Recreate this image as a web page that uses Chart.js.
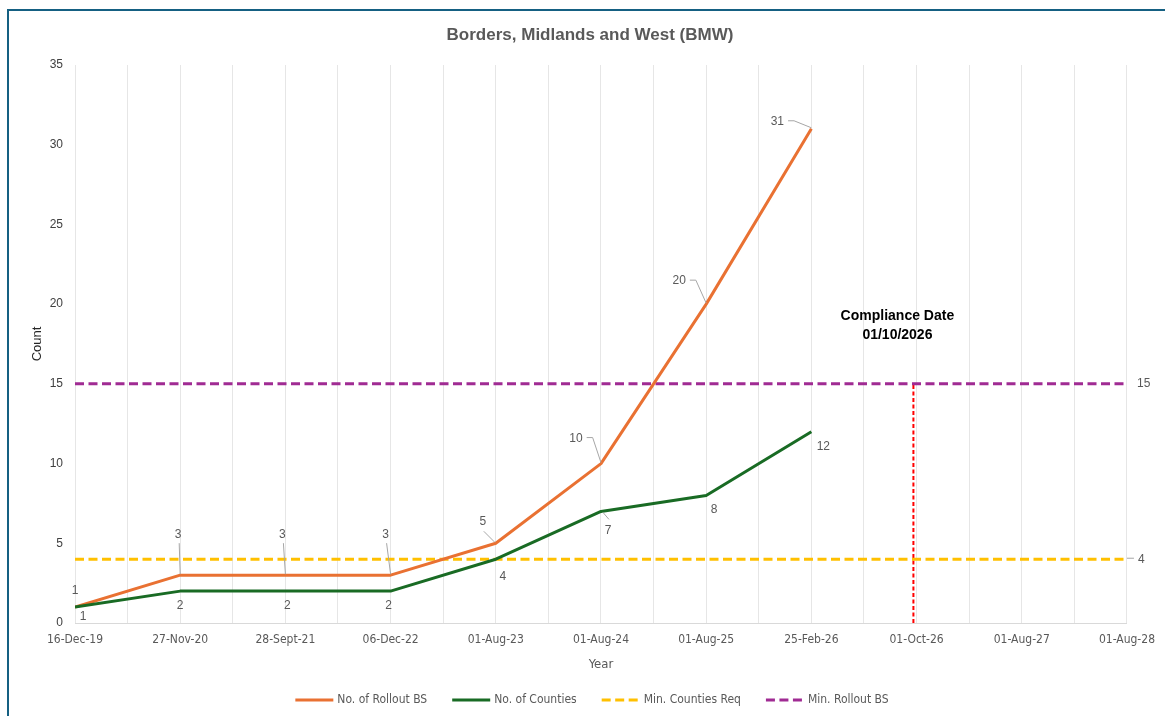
<!DOCTYPE html>
<html>
<head>
<meta charset="utf-8">
<script src="https://cdn.jsdelivr.net/npm/chart.js@4.4.1/dist/chart.umd.min.js"></script>
<style>
  html, body { margin: 0; padding: 0; background: #ffffff; }
  #wrap { position: relative; width: 1165px; height: 716px; overflow: hidden; background: #ffffff; }
  #wrap canvas { position: absolute; left: 0; top: 0; }
  #frame { position: absolute; left: 7px; top: 9px; width: 1220px; height: 760px;
           border-left: 2px solid #156082; border-top: 2px solid #156082; pointer-events: none; }
</style>
</head>
<body>
<div id="wrap">
  <canvas id="chart" width="1165" height="716"></canvas>
  <div id="frame"></div>
</div>
<script>
// ---- data ----
const xLabels = ['16-Dec-19', '27-Nov-20', '28-Sept-21', '06-Dec-22', '01-Aug-23', '01-Aug-24',
                 '01-Aug-25', '25-Feb-26', '01-Oct-26', '01-Aug-27', '01-Aug-28'];
const rolloutBS      = [1, 3, 3, 3, 5, 10, 20, 31];
const counties       = [1, 2, 2, 2, 4, 7, 8, 12];
const minCountiesReq = [4, 4, 4, 4, 4, 4, 4, 4, 4, 4, 4];
const minRolloutBS   = [15, 15, 15, 15, 15, 15, 15, 15, 15, 15, 15];
const complianceX    = 7.97;      // 01/10/2026 on the date axis
const complianceSpan = [0, 15];
const yTickValues    = [0, 5, 10, 15, 20, 25, 30, 35];

const TEXT = '#595959';
const NARROW = "'Liberation Sans Narrow', 'DejaVu Sans Condensed', 'Liberation Sans', sans-serif";
const SANS = "'Liberation Sans', Arial, sans-serif";

const toPoints = arr => arr.map((v, i) => ({ x: i, y: v }));

// label placement (offset from the point, in px) and leader style
const rolloutLabelStyle = [
  { dx: 0, dy: -16 },
  { dx: -2, dy: -40, lead: 'v' },
  { dx: -3, dy: -40, lead: 'v' },
  { dx: -5, dy: -40, lead: 'v' },
  { dx: -13, dy: -22, lead: 'd' },
  { dx: -25, dy: -25, lead: 'e' },
  { dx: -27, dy: -23, lead: 'e' },
  { dx: -34, dy: -7, lead: 'e' }
];
const countiesLabelStyle = [
  { dx: 8, dy: 10 },
  { dx: 0, dy: 15 },
  { dx: 2, dy: 15 },
  { dx: -2, dy: 15 },
  { dx: 7, dy: 17 },
  { dx: 7, dy: 19, lead: 'p' },
  { dx: 8, dy: 14 },
  { dx: 12, dy: 15 }
];

const labelPlugin = {
  id: 'annotationsAndLabels',
  afterDatasetsDraw(chart) {
    const ctx = chart.ctx;
    const xs = chart.scales.x, ys = chart.scales.y;
    ctx.save();

    // title
    ctx.fillStyle = TEXT;
    ctx.font = "bold 17px " + SANS;
    ctx.textAlign = 'center';
    ctx.textBaseline = 'middle';
    ctx.fillText('Borders, Midlands and West (BMW)', 590, 35);

    // data labels with leader lines
    ctx.font = "12px " + SANS;
    const drawSet = (values, styles) => {
      values.forEach((v, i) => {
        const px = xs.getPixelForValue(i), py = ys.getPixelForValue(v);
        const st = styles[i];
        const lx = px + st.dx, ly = py + st.dy;
        const txt = String(v);
        const w = ctx.measureText(txt).width;
        ctx.strokeStyle = '#a6a6a6';
        ctx.lineWidth = 1;
        ctx.beginPath();
        if (st.lead === 'v') {
          ctx.moveTo(lx + 1, ly + 8); ctx.lineTo(px, py - 1);
        } else if (st.lead === 'd') {
          ctx.moveTo(lx + 1, ly + 10); ctx.lineTo(px - 1, py - 1);
        } else if (st.lead === 'e') {
          const sx = lx + w / 2 + 4;
          ctx.moveTo(sx, ly - 1); ctx.lineTo(sx + 6, ly - 1); ctx.lineTo(px, py - 1);
        } else if (st.lead === 'p') {
          ctx.moveTo(px + 2, py + 1); ctx.lineTo(lx + 1, ly - 11);
        }
        if (st.lead) ctx.stroke();
        ctx.fillStyle = TEXT;
        ctx.fillText(txt, lx, ly);
      });
    };
    drawSet(rolloutBS, rolloutLabelStyle);
    drawSet(counties, countiesLabelStyle);

    // end labels of the requirement lines
    const endX = xs.getPixelForValue(minRolloutBS.length - 1);
    ctx.textAlign = 'left';
    ctx.fillText(String(minRolloutBS[minRolloutBS.length - 1]), endX + 10, ys.getPixelForValue(minRolloutBS[0]));
    const y4 = ys.getPixelForValue(minCountiesReq[0]);
    ctx.strokeStyle = '#a6a6a6';
    ctx.beginPath(); ctx.moveTo(endX, y4 - 1); ctx.lineTo(endX + 7, y4 - 1); ctx.stroke();
    ctx.fillText(String(minCountiesReq[minCountiesReq.length - 1]), endX + 11, y4);

    // compliance annotation
    const cx = xs.getPixelForValue(complianceX) - 16;
    const cy = ys.getPixelForValue(complianceSpan[1]);
    ctx.fillStyle = '#000000';
    ctx.font = "bold 14px " + SANS;
    ctx.textAlign = 'center';
    ctx.fillText('Compliance Date', cx, cy - 68);
    ctx.fillText('01/10/2026', cx, cy - 49);

    // legend
    const items = chart.data.datasets.filter(d => d.inLegend);
    ctx.font = "12px " + NARROW;
    const lineLen = 38, gapText = 4, gapItem = 25;
    const widths = items.map(d => lineLen + gapText + ctx.measureText(d.label).width);
    const total = widths.reduce((a, b) => a + b, 0) + gapItem * (items.length - 1);
    let x = 592 - total / 2;
    const ly = 700;
    items.forEach((d, k) => {
      ctx.strokeStyle = d.borderColor;
      ctx.lineWidth = d.borderWidth;
      ctx.setLineDash(d.borderDash || []);
      ctx.beginPath(); ctx.moveTo(x, ly); ctx.lineTo(x + lineLen, ly); ctx.stroke();
      ctx.setLineDash([]);
      ctx.fillStyle = TEXT;
      ctx.textAlign = 'left';
      ctx.fillText(d.label, x + lineLen + gapText, ly);
      x += widths[k] + gapItem;
    });
    ctx.restore();
  }
};

new Chart(document.getElementById('chart'), {
  type: 'line',
  data: {
    datasets: [
      { label: 'No. of Rollout BS', data: toPoints(rolloutBS), borderColor: '#E97132',
        borderWidth: 3, pointRadius: 0, inLegend: true, order: 2 },
      { label: 'No. of Counties', data: toPoints(counties), borderColor: '#196B24',
        borderWidth: 3, pointRadius: 0, inLegend: true, order: 1 },
      { label: 'Min. Counties Req', data: toPoints(minCountiesReq), borderColor: '#FFC000',
        borderWidth: 3, borderDash: [9, 4.5], pointRadius: 0, inLegend: true, order: 3 },
      { label: 'Min. Rollout BS', data: toPoints(minRolloutBS), borderColor: '#A02B93',
        borderWidth: 3, borderDash: [9, 4.5], pointRadius: 0, inLegend: true, order: 4 },
      { label: 'Compliance', data: complianceSpan.map(v => ({ x: complianceX, y: v })), borderColor: '#FF0000',
        borderWidth: 2, borderDash: [4, 2.5], pointRadius: 0, inLegend: false, order: 5 }
    ]
  },
  options: {
    responsive: false,
    animation: false,
    devicePixelRatio: 1,
    layout: { padding: { left: 20, right: 37, top: 65, bottom: 43 } },
    elements: { line: { tension: 0, borderJoinStyle: 'round', fill: false } },
    plugins: { legend: { display: false }, title: { display: false }, tooltip: { enabled: false } },
    scales: {
      x: {
        type: 'linear', min: 0, max: 10,
        afterFit: s => { s.height = 50; },
        ticks: {
          stepSize: 0.5, autoSkip: false, maxRotation: 0, padding: 10,
          color: TEXT, font: { family: NARROW, size: 12 },
          callback: v => Number.isInteger(v) ? xLabels[v] : ''
        },
        grid: { color: '#e6e6e6', lineWidth: 1, drawTicks: false },
        border: { display: true, color: '#d9d9d9', width: 1 },
        title: { display: true, text: 'Year', color: TEXT, font: { family: NARROW, size: 13 }, padding: { top: 0, bottom: 1 } }
      },
      y: {
        min: 0, max: 35,
        afterFit: s => { s.width = 55; },
        afterBuildTicks: s => { s.ticks = yTickValues.map(v => ({ value: v })); },
        ticks: { padding: 12, color: '#404040', font: { family: SANS, size: 12 } },
        grid: { display: false, drawTicks: false },
        border: { display: false },
        title: { display: true, text: 'Count', color: '#262626', font: { family: SANS, size: 13 }, padding: { top: 10, bottom: 0 } }
      }
    }
  },
  plugins: [labelPlugin]
});
</script>
</body>
</html>
